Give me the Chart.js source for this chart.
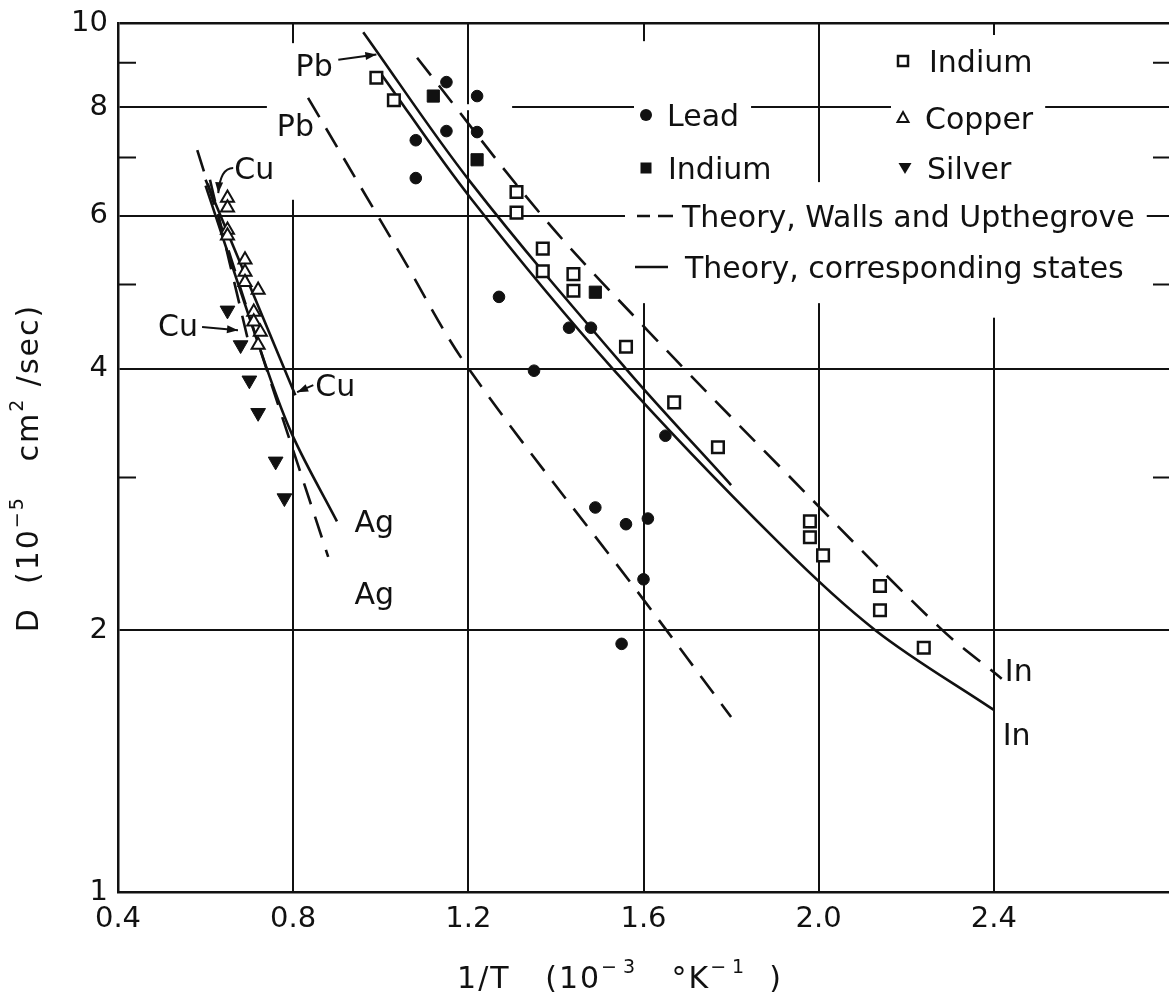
<!DOCTYPE html>
<html><head><meta charset="utf-8">
<script src="https://cdn.jsdelivr.net/npm/chart.js@4.4.0/dist/chart.umd.min.js"></script>
<style>html,body{margin:0;padding:0;background:#fff;}#wrap{width:1169px;height:997px;position:relative;}</style>
</head><body><div id="wrap"><canvas id="c"></canvas></div>
<script>
// ---------------- data ----------------
const xTicks = [0.4, 0.8, 1.2, 1.6, 2.0, 2.4, 2.8];
const yTicks = [1, 2, 4, 6, 8, 10];
const yMinorTicks = [3, 5, 7, 9];

// Indium, open squares
const indiumOpenX = [0.99, 1.03, 1.31, 1.31, 1.37, 1.37, 1.44, 1.44, 1.56, 1.67, 1.77, 1.98, 1.98, 2.01, 2.14, 2.14, 2.24];
const indiumOpenY = [8.65, 8.15, 6.39, 6.05, 5.50, 5.18, 5.14, 4.92, 4.24, 3.66, 3.25, 2.67, 2.56, 2.44, 2.25, 2.11, 1.91];
// Indium, filled squares
const indiumFilledX = [1.12, 1.22, 1.49];
const indiumFilledY = [8.24, 6.96, 4.90];
// Lead, filled circles
const leadX = [1.15, 1.22, 1.15, 1.22, 1.08, 1.08, 1.27, 1.43, 1.48, 1.35, 1.65, 1.49, 1.56, 1.61, 1.60, 1.55];
const leadY = [8.55, 8.24, 7.51, 7.49, 7.33, 6.63, 4.84, 4.46, 4.46, 3.98, 3.35, 2.77, 2.65, 2.69, 2.29, 1.93];
// Copper, open triangles
const copperX = [0.65, 0.65, 0.65, 0.65, 0.69, 0.69, 0.69, 0.72, 0.71, 0.71, 0.725, 0.72];
const copperY = [6.29, 6.13, 5.78, 5.69, 5.34, 5.17, 5.03, 4.93, 4.65, 4.53, 4.41, 4.26];
// Silver, filled inverted triangles
const silverX = [0.65, 0.68, 0.70, 0.72, 0.76, 0.78];
const silverY = [4.67, 4.26, 3.88, 3.56, 3.13, 2.84];

// Theory, corresponding states (solid)
const pbSolidX = [0.96, 1.205, 1.56, 1.80];
const pbSolidY = [9.76, 6.56, 4.00, 2.94];
const inSolidX = [1.00, 1.205, 1.53, 1.91, 2.13, 2.40];
const inSolidY = [8.75, 6.29, 4.00, 2.52, 2.00, 1.62];
const cuSolidX = [0.60, 0.805];
const cuSolidY = [6.60, 3.73];
const agSolidX = [0.60, 0.74, 0.80, 0.90];
const agSolidY = [6.50, 4.00, 3.34, 2.67];
// Theory, Walls and Upthegrove (dashed)
const pbDashX = [0.834, 1.045, 1.198, 1.60, 1.80];
const pbDashY = [8.20, 5.42, 4.02, 2.17, 1.59];
const inDashX = [1.083, 1.371, 1.609, 1.913, 2.274, 2.418];
const inDashY = [9.12, 5.98, 4.43, 3.08, 2.02, 1.76];
const cuDashX = [0.61, 0.70];
const cuDashY = [6.60, 4.25];
const agDashX = [0.581, 0.70, 0.88];
const agDashY = [7.14, 4.60, 2.43];

// ---------------- drawing ----------------
const ink = '#111';
const FONT = '"DejaVu Sans", sans-serif';
const pts = (xs, ys) => xs.map((x, i) => ({x: x, y: ys[i]}));

const annotations = [
  {text: 'Pb', x: 0.848, y: 8.95}, {text: 'Pb', x: 0.805, y: 7.63},
  {text: 'Cu', x: 0.711, y: 6.81}, {text: 'Cu', x: 0.537, y: 4.49}, {text: 'Cu', x: 0.896, y: 3.83},
  {text: 'Ag', x: 0.985, y: 2.67}, {text: 'Ag', x: 0.985, y: 2.21},
  {text: 'In', x: 2.457, y: 1.80}, {text: 'In', x: 2.452, y: 1.52}
];
const arrows = [
  {from: [0.903, 9.07], to: [0.99, 9.2]},
  {from: [0.663, 6.81], to: [0.629, 6.37], curve: true},
  {from: [0.592, 4.47], to: [0.674, 4.43]},
  {from: [0.846, 3.83], to: [0.809, 3.76]}
];
// interruptions of the drawn grid (as in the hand-drafted original)
const gridGaps = [
  {axis: 'h', at: 8, from: 0.74, to: 1.30},
  {axis: 'v', at: 0.8, from: 6.26, to: 9.48},
  {axis: 'v', at: 1.6, from: 4.76, to: 9.53},
  {axis: 'v', at: 2.0, from: 4.76, to: 6.56},
  {axis: 'v', at: 2.4, from: 4.58, to: 9.48}
];
const legendLayout = [
  {kind: 'circle', text: 'Lead', mx: 646, tx: 667, y: 115},
  {kind: 'fsquare', text: 'Indium', mx: 646, tx: 668, y: 168},
  {kind: 'osquare', text: 'Indium', mx: 903, tx: 929, y: 61},
  {kind: 'otri', text: 'Copper', mx: 903, tx: 925, y: 118},
  {kind: 'ftri', text: 'Silver', mx: 905, tx: 927, y: 168},
  {kind: 'dash', text: 'Theory, Walls and Upthegrove', mx: 637, mx2: 673, tx: 682, y: 216},
  {kind: 'solid', text: 'Theory, corresponding states', mx: 635, mx2: 668, tx: 685, y: 267}
];

function drawMark(ctx, kind, x, y) {
  ctx.save();
  ctx.fillStyle = ink; ctx.strokeStyle = ink; ctx.lineWidth = 2.5;
  ctx.beginPath();
  if (kind === 'circle') { ctx.arc(x, y, 6, 0, Math.PI * 2); ctx.fill(); }
  else if (kind === 'fsquare') { ctx.fillRect(x - 5.5, y - 5.5, 11, 11); }
  else if (kind === 'osquare') { ctx.strokeRect(x - 5, y - 5, 10, 10); }
  else if (kind === 'otri') { ctx.lineWidth = 2; ctx.moveTo(x, y - 6); ctx.lineTo(x + 5.5, y + 4); ctx.lineTo(x - 5.5, y + 4); ctx.closePath(); ctx.stroke(); }
  else if (kind === 'ftri') { ctx.moveTo(x - 6.5, y - 5); ctx.lineTo(x + 6.5, y - 5); ctx.lineTo(x, y + 6); ctx.closePath(); ctx.fill(); }
  ctx.restore();
}

function richWidth(ctx, parts, size) {
  let w = 0;
  for (const p of parts) { ctx.font = (p.sup ? Math.round(size * 0.62) : size) + 'px ' + FONT; w += ctx.measureText(p.t).width; }
  return w;
}
function drawRich(ctx, parts, x, y, size) {
  let cx = x;
  for (const p of parts) {
    ctx.font = (p.sup ? Math.round(size * 0.62) : size) + 'px ' + FONT;
    ctx.fillText(p.t, cx, p.sup ? y - size * 0.5 : y);
    cx += ctx.measureText(p.t).width;
  }
}
const xTitle = [{t: '1/T   (10'}, {t: '\u2212\u200a3', sup: true}, {t: '   \u00b0K'}, {t: '\u2212\u200a1', sup: true}, {t: '  )'}];
const yTitle = [{t: 'D  (10'}, {t: '\u22125', sup: true}, {t: '   cm'}, {t: '2', sup: true}, {t: ' /sec)'}];

const decor = {
  id: 'decor',
  beforeDraw(chart) {
    const ctx = chart.ctx; ctx.save(); ctx.fillStyle = '#fff'; ctx.fillRect(0, 0, chart.width, chart.height); ctx.restore();
  },
  beforeDatasetsDraw(chart) {
    const ctx = chart.ctx, a = chart.chartArea, xs = chart.scales.x, ys = chart.scales.y;
    const P = (x, y) => [xs.getPixelForValue(x), ys.getPixelForValue(y)];
    ctx.save();
    // gaps in the grid
    ctx.fillStyle = '#fff';
    gridGaps.forEach(g => {
      if (g.axis === 'h') {
        const py = ys.getPixelForValue(g.at), x1 = xs.getPixelForValue(g.from), x2 = xs.getPixelForValue(g.to);
        ctx.fillRect(x1, py - 3, x2 - x1, 6);
      } else {
        const px = xs.getPixelForValue(g.at), y1 = ys.getPixelForValue(g.to), y2 = ys.getPixelForValue(g.from);
        ctx.fillRect(px - 3, y1, 6, y2 - y1);
      }
    });
    ctx.strokeStyle = ink; ctx.lineWidth = 2;
    // minor ticks on the log axis (left and right edges)
    yMinorTicks.forEach(v => {
      const py = ys.getPixelForValue(v);
      ctx.beginPath(); ctx.moveTo(a.left, py); ctx.lineTo(a.left + 18, py);
      ctx.moveTo(a.right, py); ctx.lineTo(a.right - 16, py); ctx.stroke();
    });
    // legend
    ctx.font = '30px ' + FONT; ctx.textAlign = 'left'; ctx.textBaseline = 'alphabetic';
    legendLayout.forEach(e => {
      const tw = ctx.measureText(e.text).width;
      ctx.fillStyle = '#fff';
      ctx.fillRect(e.mx - 12, e.y - 26, e.tx + tw + 12 - (e.mx - 12), 52);
    });
    legendLayout.forEach(e => {
      ctx.fillStyle = ink;
      ctx.fillText(e.text, e.tx, e.y + 11);
      if (e.kind === 'dash') {
        ctx.lineWidth = 2.5; ctx.beginPath();
        ctx.moveTo(e.mx, e.y); ctx.lineTo(e.mx + 13, e.y); ctx.moveTo(e.mx + 21, e.y); ctx.lineTo(e.mx2, e.y); ctx.stroke();
      } else if (e.kind === 'solid') {
        ctx.lineWidth = 2.5; ctx.beginPath(); ctx.moveTo(e.mx, e.y); ctx.lineTo(e.mx2, e.y); ctx.stroke();
      } else {
        drawMark(ctx, e.kind, e.mx, e.y);
      }
    });
    // annotation labels
    ctx.textAlign = 'center';
    annotations.forEach(n => {
      const [px, py] = P(n.x, n.y);
      const tw = ctx.measureText(n.text).width;
      ctx.fillStyle = '#fff'; ctx.fillRect(px - tw / 2 - 4, py - 15, tw + 8, 30);
      ctx.fillStyle = ink; ctx.fillText(n.text, px, py + 11);
    });
    // arrows
    ctx.lineWidth = 2; ctx.strokeStyle = ink; ctx.fillStyle = ink;
    arrows.forEach(r => {
      const [x1, y1] = P(r.from[0], r.from[1]);
      const [x2, y2] = P(r.to[0], r.to[1]);
      let ang;
      ctx.beginPath(); ctx.moveTo(x1, y1);
      if (r.curve) {
        const cx = x2 + 2, cy = y1;
        ctx.quadraticCurveTo(cx, cy, x2, y2);
        ang = Math.atan2(y2 - cy, x2 - cx);
      } else {
        ctx.lineTo(x2, y2);
        ang = Math.atan2(y2 - y1, x2 - x1);
      }
      ctx.stroke();
      ctx.beginPath();
      ctx.moveTo(x2, y2);
      ctx.lineTo(x2 - 11 * Math.cos(ang) + 4 * Math.sin(ang), y2 - 11 * Math.sin(ang) - 4 * Math.cos(ang));
      ctx.lineTo(x2 - 11 * Math.cos(ang) - 4 * Math.sin(ang), y2 - 11 * Math.sin(ang) + 4 * Math.cos(ang));
      ctx.closePath(); ctx.fill();
    });
    ctx.restore();
  },
  afterDraw(chart) {
    const ctx = chart.ctx;
    ctx.save(); ctx.fillStyle = ink; ctx.textAlign = 'left'; ctx.textBaseline = 'alphabetic';
    if (ctx.letterSpacing !== undefined) ctx.letterSpacing = '2px';
    const size = 30;
    const wx = richWidth(ctx, xTitle, size);
    drawRich(ctx, xTitle, 620 - wx / 2, 988, size);
    const wy = richWidth(ctx, yTitle, size);
    ctx.translate(38, 468); ctx.rotate(-Math.PI / 2);
    drawRich(ctx, yTitle, -wy / 2, 0, size);
    ctx.restore();
  }
};

const lineDs = (label, xs, ys, dashed) => ({
  label: label, data: pts(xs, ys), showLine: true, borderColor: ink, borderWidth: 2.6,
  borderDash: dashed ? [22, 13] : [], pointRadius: 0, pointHoverRadius: 0, fill: false,
  tension: 0.35, order: 2
});

const datasets = [
  lineDs('Pb, corresponding states', pbSolidX, pbSolidY, false),
  lineDs('In, corresponding states', inSolidX, inSolidY, false),
  lineDs('Cu, corresponding states', cuSolidX, cuSolidY, false),
  lineDs('Ag, corresponding states', agSolidX, agSolidY, false),
  lineDs('Pb, Walls and Upthegrove', pbDashX, pbDashY, true),
  lineDs('In, Walls and Upthegrove', inDashX, inDashY, true),
  lineDs('Cu, Walls and Upthegrove', cuDashX, cuDashY, true),
  lineDs('Ag, Walls and Upthegrove', agDashX, agDashY, true),
  {label: 'Indium (open)', data: pts(indiumOpenX, indiumOpenY), pointStyle: 'rect', pointRadius: 8.2,
   pointBackgroundColor: '#fff', pointBorderColor: ink, pointBorderWidth: 2.5, showLine: false, order: 1},
  {label: 'Indium (filled)', data: pts(indiumFilledX, indiumFilledY), pointStyle: 'rect', pointRadius: 8.6,
   pointBackgroundColor: ink, pointBorderColor: ink, pointBorderWidth: 1, showLine: false, order: 1},
  {label: 'Lead', data: pts(leadX, leadY), pointStyle: 'circle', pointRadius: 5.8,
   pointBackgroundColor: ink, pointBorderColor: ink, pointBorderWidth: 1, showLine: false, order: 1},
  {label: 'Copper', data: pts(copperX, copperY), pointStyle: 'triangle', pointRadius: 7.5,
   pointBackgroundColor: '#fff', pointBorderColor: ink, pointBorderWidth: 2, showLine: false, order: 1},
  {label: 'Silver', data: pts(silverX, silverY), pointStyle: 'triangle', pointRotation: 180, pointRadius: 8.5,
   pointBackgroundColor: ink, pointBorderColor: ink, pointBorderWidth: 1, showLine: false, order: 1}
];

new Chart(document.getElementById('c'), {
  type: 'scatter',
  data: {datasets: datasets},
  options: {
    responsive: true, maintainAspectRatio: false, animation: false, devicePixelRatio: 1,
    layout: {autoPadding: false, padding: {top: 23, left: 0, right: 0, bottom: 0}},
    plugins: {legend: {display: false}, tooltip: {enabled: false}},
    events: [],
    scales: {
      x: {
        type: 'linear', min: 0.4, max: 2.8,
        afterBuildTicks: s => { s.ticks = xTicks.map(v => ({value: v})); },
        afterFit: s => { s.height = 105; s.paddingRight = 0; s.paddingLeft = 0; },
        grid: {color: c => (c.tick && (c.tick.value <= 0.41 || c.tick.value >= 2.79)) ? 'rgba(0,0,0,0)' : ink, lineWidth: 2, drawTicks: false},
        border: {display: true, color: ink, width: 2.5},
        ticks: {color: ink, font: {family: FONT, size: 29}, padding: 10, maxRotation: 0, autoSkip: false,
          callback: v => v >= 2.79 ? '' : Number(v).toFixed(1)}
      },
      y: {
        type: 'logarithmic', min: 1, max: 10,
        afterBuildTicks: s => { s.ticks = yTicks.map(v => ({value: v})); },
        afterFit: s => { s.width = 118; s.paddingTop = 0; s.paddingBottom = 0; },
        grid: {color: c => (c.tick && c.tick.value === 1) ? 'rgba(0,0,0,0)' : ink,
               lineWidth: c => (c.tick && c.tick.value === 10) ? 2.5 : 2, drawTicks: false},
        border: {display: true, color: ink, width: 2.5},
        ticks: {color: ink, font: {family: FONT, size: 29}, padding: 10, autoSkip: false, callback: v => String(v)}
      }
    }
  },
  plugins: [decor]
});
</script>
</body></html>
